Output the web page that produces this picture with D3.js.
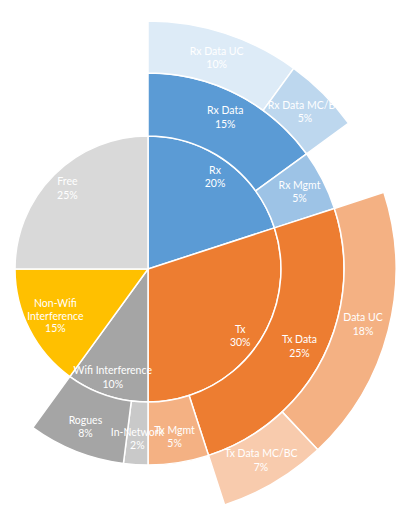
<!DOCTYPE html>
<html>
<head>
<meta charset="utf-8">
<script src="https://cdn.jsdelivr.net/npm/d3@7"></script>
<style>
  body { margin: 0; background: #fff; }
  text { font-family: Lato, "Open Sans", sans-serif; }
</style>
</head>
<body>
<div id="chart"></div>
<script>
// nodes in drawing order (clockwise from 12 o'clock)
var ids     = ["root", "Rx", "Rx Data", "Rx Data UC", "Rx Data MC/BC", "Rx Mgmt",
               "Tx", "Tx Data", "Data UC", "Tx Data MC/BC", "Tx Mgmt",
               "Wifi Interference", "In-Network", "Rogues", "Non-Wifi Interference", "Free"];
var parents = ["", "root", "Rx", "Rx Data", "Rx Data", "Rx",
               "root", "Tx", "Tx Data", "Tx Data", "Tx",
               "root", "Wifi Interference", "Wifi Interference", "root", "root"];
var values  = [0, 0, 0, 10, 5, 5,
               0, 0, 18, 7, 5,
               0, 2, 8, 15, 25];
var colors  = ["#fff", "#5b9bd5", "#5b9bd5", "#ddebf7", "#bdd7ee", "#9dc3e6",
               "#ed7d31", "#ed7d31", "#f4b183", "#f8cbad", "#f4b183",
               "#a5a5a5", "#c9c9c9", "#a5a5a5", "#ffc000", "#d9d9d9"];
var wrapped = { "Non-Wifi Interference": ["Non-Wifi", "Interference"] };

var width = 398, height = 515;
var cx = 148, cy = 269;

var table = ids.map(function(id, i) {
  return { id: id, parent: parents[i] || null, value: values[i], color: colors[i] };
});

var root = d3.stratify()
    .id(function(d) { return d.id; })
    .parentId(function(d) { return d.parent; })(table)
    .sum(function(d) { return d.value; });

d3.partition().size([2 * Math.PI, 4])(root);

// ring radii per depth (rings are not equal width)
var radius = d3.scaleLinear().domain([1, 2, 3, 4]).range([0, 133, 196, 248]);
var labelR = { 1: 114, 2: 170, 3: 222 };
// wrapped label sits a bit further in so it fits its slice
var labelROverride = { "Non-Wifi Interference": 104 };

var arc = d3.arc()
    .startAngle(function(d) { return d.x0; })
    .endAngle(function(d) { return d.x1; })
    .innerRadius(function(d) { return radius(d.y0); })
    .outerRadius(function(d) { return radius(d.y1); });

var svg = d3.select("#chart").append("svg")
    .attr("width", width)
    .attr("height", height)
  .append("g")
    .attr("transform", "translate(" + cx + "," + cy + ")");

var nodes = root.descendants().filter(function(d) { return d.depth > 0; });

svg.selectAll("path")
    .data(nodes)
    .enter().append("path")
    .attr("d", arc)
    .style("fill", function(d) { return d.data.color; })
    .style("stroke", "#fff")
    .style("stroke-width", 1.5);

var total = root.value;

var lab = svg.selectAll(".lab")
    .data(nodes)
    .enter().append("text")
    .attr("class", "lab")
    .attr("text-anchor", "middle")
    .attr("fill", "#fff")
    .attr("font-size", "10.5px")
    .attr("transform", function(d) {
      var a = (d.x0 + d.x1) / 2, r = labelROverride[d.id] || labelR[d.depth];
      return "translate(" + (Math.sin(a) * r) + "," + (-Math.cos(a) * r) + ")";
    });

lab.each(function(d) {
  var lines = (wrapped[d.id] || [d.id]).concat([Math.round(d.value / total * 100) + "%"]);
  var t = d3.select(this);
  var lh = lines.length > 2 ? 12.5 : 13.5;
  lines.forEach(function(s, i) {
    t.append("tspan")
      .attr("x", 0)
      .attr("y", (i - (lines.length - 1) / 2) * lh)
      .attr("dy", "0.35em")
      .text(s);
  });
});
</script>
</body>
</html>
